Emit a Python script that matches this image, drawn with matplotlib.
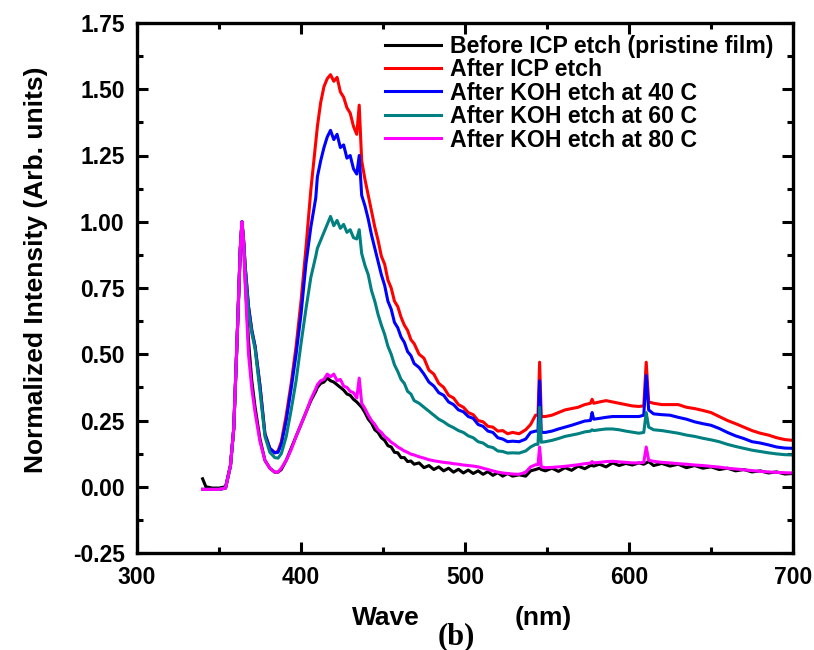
import matplotlib
matplotlib.use("Agg")
import matplotlib.pyplot as plt
from matplotlib.ticker import MultipleLocator, FormatStrFormatter

plt.rcParams['font.family'] = ['Liberation Sans', 'DejaVu Sans']
plt.rcParams['font.weight'] = 'bold'

# ---------------- data ----------------
wavelength = [
    340, 342, 346, 350, 354, 357, 359, 361, 363, 364, 365, 366, 368, 370, 372, 375, 378, 381, 384, 386,
    388, 391, 394, 397, 400, 403, 406, 409,
    410, 412, 414, 416, 418, 420, 422, 424, 426, 428, 430, 432, 434, 435.5, 437, 439, 441, 443, 445, 447,
    449, 451, 453, 455, 457, 459, 461, 463, 465, 467, 469,
    472, 475, 478, 481, 484, 487, 490, 493, 496, 499, 502, 505, 508, 511, 514, 517, 520, 523, 526, 529,
    533, 537, 540, 543, 544.5, 545.5, 546.5, 549, 553, 557, 561, 565, 569, 573, 576.5, 577.5, 578.5, 582,
    586, 590, 594, 598, 602, 606, 609, 610.5, 612, 615, 620, 625, 630, 635, 640, 645, 650, 655, 660, 665,
    670, 675, 680, 685, 690, 695, 700,
]

before_icp = [
    0.03, 0.0, -0.005, -0.005, 0.0, 0.08, 0.22, 0.55, 0.9, 1.0, 0.92, 0.78, 0.55, 0.40, 0.30, 0.18, 0.10, 0.07, 0.055, 0.055,
    0.065, 0.10, 0.145, 0.19, 0.235, 0.28, 0.325, 0.36,
    0.375, 0.39, 0.395, 0.41, 0.40, 0.395, 0.385, 0.375, 0.365, 0.35, 0.345, 0.33, 0.32, 0.31, 0.30, 0.28, 0.255, 0.24, 0.215, 0.205,
    0.185, 0.175, 0.155, 0.15, 0.13, 0.128, 0.11, 0.11, 0.095, 0.097, 0.085,
    0.09, 0.072, 0.08, 0.065, 0.075, 0.06, 0.07, 0.055, 0.066, 0.052, 0.063, 0.05, 0.06, 0.047, 0.057, 0.043, 0.053, 0.04, 0.05, 0.04,
    0.045, 0.04, 0.06, 0.065, 0.068, 0.07, 0.065, 0.06, 0.07, 0.058, 0.072, 0.062, 0.078, 0.068, 0.08, 0.08, 0.078, 0.085,
    0.075, 0.09, 0.08, 0.088, 0.082, 0.09, 0.085, 0.09, 0.095, 0.08, 0.088, 0.078, 0.085, 0.072, 0.08, 0.07, 0.075, 0.065, 0.07, 0.06,
    0.065, 0.056, 0.06, 0.052, 0.056, 0.048, 0.05,
]

after_icp = [
    -0.01, -0.01, -0.01, -0.01, -0.005, 0.08, 0.22, 0.55, 0.9, 1.0, 0.93, 0.83, 0.68, 0.59, 0.53, 0.38, 0.20, 0.145, 0.128, 0.135,
    0.17, 0.27, 0.39, 0.53, 0.70, 0.90, 1.12, 1.30,
    1.36, 1.45, 1.51, 1.54, 1.555, 1.53, 1.545, 1.49, 1.47, 1.43, 1.41, 1.36, 1.33, 1.44, 1.23, 1.16, 1.10, 1.04, 0.98, 0.93,
    0.87, 0.84, 0.78, 0.75, 0.70, 0.68, 0.64, 0.61, 0.59, 0.555, 0.54,
    0.50, 0.485, 0.44, 0.425, 0.39, 0.375, 0.345, 0.335, 0.31, 0.30, 0.28, 0.272, 0.25, 0.245, 0.228, 0.225, 0.21, 0.212, 0.20, 0.205,
    0.20, 0.215, 0.235, 0.27, 0.27, 0.47, 0.265, 0.265, 0.27, 0.28, 0.29, 0.295, 0.30, 0.31, 0.315, 0.33, 0.315, 0.32,
    0.325, 0.32, 0.315, 0.31, 0.305, 0.303, 0.305, 0.47, 0.32, 0.315, 0.31, 0.31, 0.31, 0.30, 0.295, 0.288, 0.28, 0.265, 0.25, 0.238,
    0.225, 0.212, 0.202, 0.195, 0.185, 0.178, 0.175,
]

koh_40 = [
    -0.01, -0.01, -0.01, -0.01, -0.005, 0.08, 0.22, 0.55, 0.9, 1.0, 0.93, 0.83, 0.68, 0.59, 0.53, 0.38, 0.20, 0.145, 0.128, 0.13,
    0.16, 0.25, 0.37, 0.50, 0.65, 0.84, 0.98, 1.09,
    1.17, 1.23, 1.28, 1.32, 1.345, 1.31, 1.33, 1.28, 1.29, 1.24, 1.25, 1.20, 1.18, 1.25, 1.10, 1.06, 1.01, 0.95, 0.90, 0.85,
    0.80, 0.76, 0.70, 0.67, 0.62, 0.60, 0.565, 0.545, 0.51, 0.495, 0.465,
    0.45, 0.425, 0.395, 0.38, 0.355, 0.345, 0.32, 0.31, 0.29, 0.283, 0.265, 0.258, 0.235, 0.228, 0.21, 0.205, 0.185, 0.18, 0.17, 0.172,
    0.17, 0.18, 0.205, 0.21, 0.21, 0.40, 0.205, 0.205, 0.21, 0.218, 0.225, 0.232, 0.24, 0.248, 0.25, 0.28, 0.255, 0.258,
    0.262, 0.265, 0.265, 0.265, 0.265, 0.265, 0.27, 0.42, 0.29, 0.275, 0.272, 0.27, 0.262, 0.255, 0.245, 0.238, 0.232, 0.22, 0.205, 0.192,
    0.182, 0.17, 0.165, 0.158, 0.15, 0.146, 0.145,
]

koh_60 = [
    -0.01, -0.01, -0.01, -0.01, -0.005, 0.08, 0.22, 0.55, 0.9, 1.0, 0.93, 0.82, 0.66, 0.58, 0.52, 0.36, 0.19, 0.13, 0.11, 0.108,
    0.125, 0.19, 0.29, 0.40, 0.54, 0.67, 0.79, 0.87,
    0.90, 0.93, 0.96, 0.99, 1.02, 0.985, 1.005, 0.975, 0.99, 0.96, 0.97, 0.94, 0.935, 0.97, 0.88, 0.835, 0.80, 0.74, 0.70, 0.65,
    0.61, 0.575, 0.53, 0.50, 0.46, 0.435, 0.405, 0.39, 0.36, 0.35, 0.325,
    0.315, 0.30, 0.285, 0.27, 0.255, 0.245, 0.232, 0.223, 0.212, 0.205, 0.192, 0.185, 0.17, 0.165, 0.152, 0.148, 0.135, 0.133, 0.127, 0.128,
    0.127, 0.135, 0.15, 0.16, 0.16, 0.30, 0.168, 0.17, 0.175, 0.182, 0.19, 0.195, 0.20, 0.207, 0.21, 0.215, 0.212, 0.215,
    0.218, 0.218, 0.215, 0.21, 0.206, 0.202, 0.205, 0.28, 0.225, 0.215, 0.212, 0.207, 0.202, 0.195, 0.19, 0.183, 0.177, 0.17, 0.16, 0.152,
    0.145, 0.138, 0.133, 0.128, 0.124, 0.121, 0.12,
]

koh_80 = [
    -0.01, -0.01, -0.01, -0.01, -0.005, 0.08, 0.22, 0.55, 0.9, 1.0, 0.92, 0.76, 0.50, 0.37, 0.28, 0.17, 0.10, 0.07, 0.055, 0.055,
    0.07, 0.10, 0.14, 0.19, 0.235, 0.28, 0.33, 0.37,
    0.385, 0.40, 0.405, 0.425, 0.415, 0.425, 0.40, 0.405, 0.38, 0.375, 0.36, 0.355, 0.335, 0.41, 0.315, 0.295, 0.27, 0.25, 0.235, 0.215,
    0.205, 0.19, 0.18, 0.168, 0.16, 0.15, 0.143, 0.135, 0.13, 0.123, 0.12,
    0.113, 0.108, 0.102, 0.098, 0.095, 0.092, 0.09, 0.087, 0.085, 0.082, 0.08, 0.078, 0.075, 0.07, 0.065, 0.06, 0.055, 0.052, 0.05, 0.048,
    0.047, 0.055, 0.075, 0.083, 0.083, 0.15, 0.075, 0.072, 0.073, 0.075, 0.077, 0.08, 0.083, 0.087, 0.089, 0.095, 0.09, 0.092,
    0.095, 0.096, 0.094, 0.092, 0.09, 0.09, 0.092, 0.15, 0.10, 0.096, 0.092, 0.09, 0.087, 0.085, 0.082, 0.08, 0.077, 0.074, 0.07, 0.067,
    0.064, 0.061, 0.058, 0.056, 0.054, 0.053, 0.052,
]

labels = [
    "Before ICP etch (pristine film)",
    "After ICP etch",
    "After KOH etch at 40 C",
    "After KOH etch at 60 C",
    "After KOH etch at 80 C",
]
colors = ["#000000", "#FF0000", "#0000FF", "#008080", "#FF00FF"]
series = [before_icp, after_icp, koh_40, koh_60, koh_80]

x_ticks = [300, 400, 500, 600, 700]
y_ticks = [-0.25, 0.0, 0.25, 0.5, 0.75, 1.0, 1.25, 1.5, 1.75]

# visible pieces of the x-axis title (the middle is hidden behind the panel tag)
xlabel_left = "Wave"
xlabel_right = "(nm)"
ylabel = "Normalized Intensity (Arb. units)"
panel_tag = "(b)"

# ---------------- figure ----------------
W, H = 814, 650
fig = plt.figure(figsize=(W / 100, H / 100), dpi=100)
ax = fig.add_axes([137 / W, 1 - 553 / H, (793 - 137) / W, (553 - 23) / H])

for ys, c, lab in zip(series, colors, labels):
    ax.plot(wavelength, ys, color=c, lw=2.2, label=lab, solid_joinstyle='round')

ax.set_xlim(300, 700)
ax.set_ylim(-0.25, 1.75)
ax.set_xticks(x_ticks)
ax.set_yticks(y_ticks)
ax.xaxis.set_minor_locator(MultipleLocator(50))
ax.yaxis.set_minor_locator(MultipleLocator(0.125))
ax.yaxis.set_major_formatter(FormatStrFormatter('%.2f'))

for sp in ax.spines.values():
    sp.set_linewidth(2.4)
ax.tick_params(which='both', direction='in', top=True, right=True, width=2.2,
               labelsize=16.5, pad=9)
ax.tick_params(which='major', length=8)
ax.tick_params(which='minor', length=4.5)
for t in ax.get_xticklabels() + ax.get_yticklabels():
    t.set_fontweight('bold')

ax.set_ylabel(ylabel, fontsize=19, fontweight='bold')
ax.yaxis.set_label_coords(-0.135, 0.534)

fig.text(352 / W, 1 - 618 / H, xlabel_left, ha='left', va='center',
         fontsize=19, fontweight='bold')
fig.text(515 / W, 1 - 618 / H, xlabel_right, ha='left', va='center',
         fontsize=19, fontweight='bold')
fig.text(456 / W, 1 - 637 / H, panel_tag, ha='center', va='center', fontsize=22,
         fontweight='bold', family=['Liberation Serif', 'DejaVu Serif'])

leg = ax.legend(loc='upper left', bbox_to_anchor=(0.378, 0.978), frameon=False,
                fontsize=16.7, handlelength=2.4, handletextpad=0.4,
                labelspacing=0.02, borderpad=0, borderaxespad=0)
for t in leg.get_texts():
    t.set_fontweight('bold')
for l in leg.get_lines():
    l.set_linewidth(2.2)

fig.savefig("out.png", dpi=100)
